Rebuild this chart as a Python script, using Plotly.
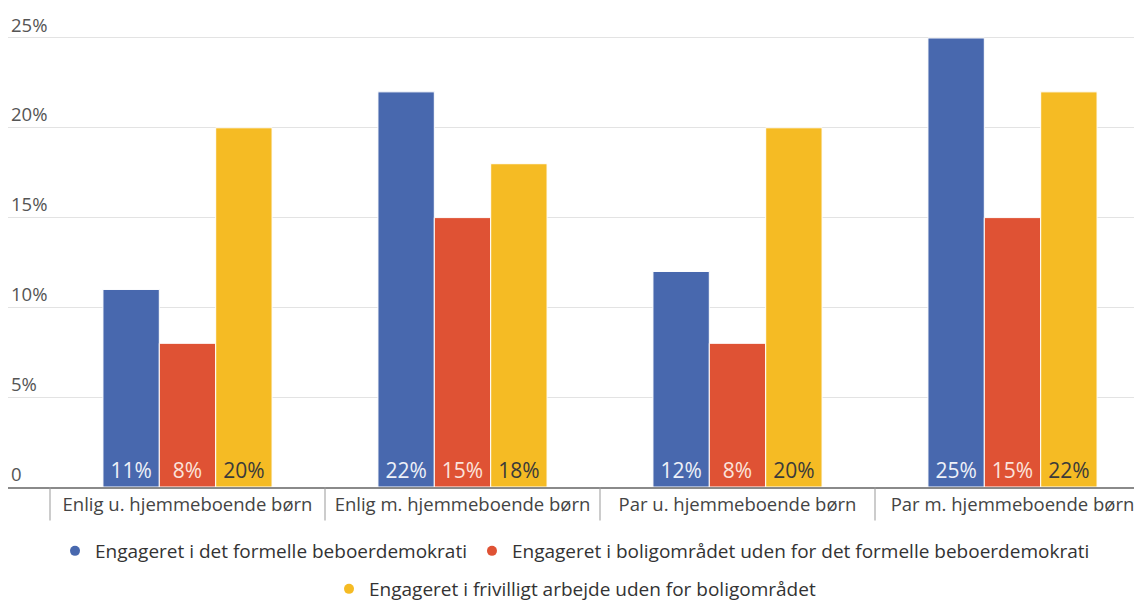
import plotly.graph_objects as go

categories = ["Enlig u. hjemmeboende børn", "Enlig m. hjemmeboende børn",
              "Par u. hjemmeboende børn", "Par m. hjemmeboende børn"]
series_names = ["Engageret i det formelle beboerdemokrati",
                "Engageret i boligområdet uden for det formelle beboerdemokrati",
                "Engageret i frivilligt arbejde uden for boligområdet"]
formelle = [11, 22, 12, 25]
boligomraadet = [8, 15, 8, 15]
frivilligt = [20, 18, 20, 22]
y_ticks = [0, 5, 10, 15, 20, 25]
y_tick_labels = ["0", "5%", "10%", "15%", "20%", "25%"]

colors = ["#4868AE", "#DF5234", "#F5BB24"]
text_colors = ["#EEF1F8", "#FBE3DC", "#3a3a3a"]
values = [formelle, boligomraadet, frivilligt]
legend_ids = ["legend", "legend", "legend2"]

FONT = "Open Sans"

fig = go.Figure()
for name, vals, c, tc in zip(series_names, values, colors, text_colors):
    fig.add_trace(go.Bar(
        x=categories, y=vals, name=name, marker_color=c,
        marker_line_color="white", marker_line_width=1,
        text=[f"{v}%" for v in vals], textposition="inside",
        insidetextanchor="start", textangle=0,
        textfont=dict(color=tc, size=21, family=FONT),
        showlegend=False,
    ))
for name, c, lg in zip(series_names, colors, legend_ids):
    fig.add_trace(go.Scatter(
        x=[None], y=[None], mode="markers", name=name, legend=lg,
        marker=dict(color=c, size=10, symbol="circle"), showlegend=True,
    ))

# category separators
for i in range(len(categories)):
    fig.add_shape(type="line", xref="x", yref="paper",
                  x0=i - 0.5, x1=i - 0.5, y0=0, y1=-0.07,
                  line=dict(color="#999999", width=1))

legend_style = dict(orientation="h", xref="container", yref="container",
                    x=0.5, xanchor="center", yanchor="middle",
                    font=dict(size=19, color="#333333", family=FONT),
                    itemwidth=30, bgcolor="rgba(0,0,0,0)")

fig.update_layout(
    width=1134, height=595,
    margin=dict(l=0, r=0, t=0, b=116),
    paper_bgcolor="white", plot_bgcolor="white",
    barmode="group", bargap=0.385, bargroupgap=0,
    font=dict(family=FONT, color="#444444", size=16),
    xaxis=dict(range=[-0.5 - 42 / 275, 3.5 - 8 / 275], showgrid=False,
               showline=True, linecolor="#8a8a8a", linewidth=2,
               ticks="", automargin=False,
               tickfont=dict(size=18.5, color="#444444", family=FONT)),
    yaxis=dict(range=[0, 26.67], tickvals=y_ticks, ticktext=y_tick_labels,
               ticklabelposition="inside top", showgrid=True,
               gridcolor="#e3e3e3", gridwidth=1, zeroline=False,
               automargin=False,
               tickfont=dict(size=18.5, color="#555555", family=FONT), ticks=""),
    legend=dict(y=1 - 543 / 595, **legend_style),
    legend2=dict(y=1 - 581 / 595, **legend_style),
)

fig.write_html("out.html")
